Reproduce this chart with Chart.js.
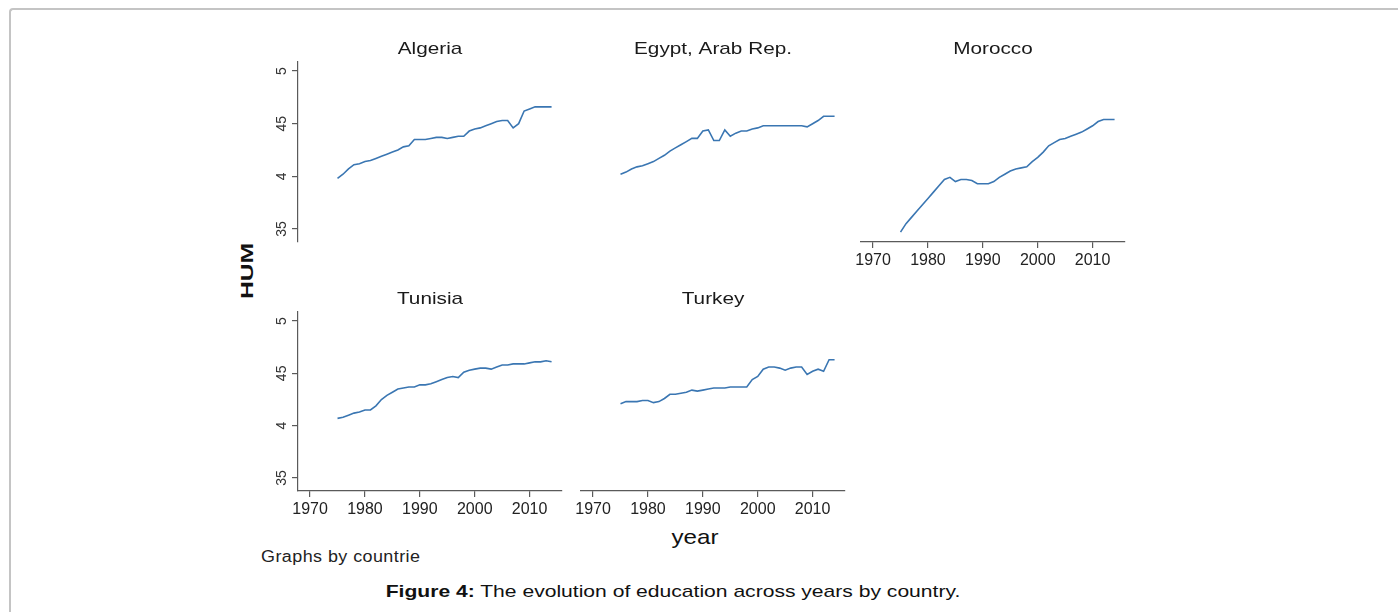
<!DOCTYPE html>
<html>
<head>
<meta charset="utf-8">
<script src="https://cdn.jsdelivr.net/npm/chart.js@4.4.1/dist/chart.umd.min.js"></script>
<style>
  html, body { margin:0; padding:0; background:#fff; }
  #root { position:relative; width:1398px; height:612px; overflow:hidden; font-family:"Liberation Sans", Arial, sans-serif; }
  .frame { position:absolute; left:9px; top:8px; width:1500px; height:700px; border-top:2px solid #c4c4c4; border-left:2px solid #c4c4c4; border-top-left-radius:4px; box-sizing:border-box; }
  .panel { position:absolute; }
  .txt { position:absolute; white-space:nowrap; color:#111; }
</style>
</head>
<body>
<div id="root">
  <div class="frame"></div>
  <div class="txt" id="ylab" style="left:248px; top:271px; font-size:17px; font-weight:bold; transform:translate(-50%,-50%) rotate(-90deg) scaleX(1.45);">HUM</div>
  <div class="txt" id="xlab" style="left:695px; top:537px; font-size:21px; transform:translate(-50%,-50%) scaleX(1.15);">year</div>
  <div class="txt" id="note" style="left:261px; top:557px; font-size:16px; transform-origin:0 50%; transform:translateY(-50%) scaleX(1.12); letter-spacing:0.4px; color:#222;">Graphs by countrie</div>
  <div class="txt" id="cap" style="left:673px; top:592px; font-size:17px; transform:translate(-50%,-50%) scaleX(1.24); color:#111;"><b>Figure 4:</b> The evolution of education across years by country.</div>
</div>
<script>
// ---------- data ----------
const years = [1975,1976,1977,1978,1979,1980,1981,1982,1983,1984,1985,1986,1987,1988,1989,1990,1991,1992,1993,1994,1995,1996,1997,1998,1999,2000,2001,2002,2003,2004,2005,2006,2007,2008,2009,2010,2011,2012,2013,2014];

const countries = ["Algeria", "Egypt, Arab Rep.", "Morocco", "Tunisia", "Turkey"];

const algeria = [3.98,4.02,4.07,4.11,4.12,4.14,4.15,4.17,4.19,4.21,4.23,4.25,4.28,4.29,4.35,4.35,4.35,4.36,4.37,4.37,4.36,4.37,4.38,4.38,4.43,4.45,4.46,4.48,4.50,4.52,4.53,4.53,4.46,4.50,4.62,4.64,4.66,4.66,4.66,4.66];
const egypt   = [4.02,4.04,4.07,4.09,4.10,4.12,4.14,4.17,4.20,4.24,4.27,4.30,4.33,4.36,4.36,4.43,4.44,4.34,4.34,4.44,4.38,4.41,4.43,4.43,4.45,4.46,4.48,4.48,4.48,4.48,4.48,4.48,4.48,4.48,4.47,4.50,4.53,4.57,4.57,4.57];
const morocco = [3.47,3.55,3.61,3.67,3.73,3.79,3.85,3.91,3.97,3.99,3.95,3.97,3.97,3.96,3.93,3.93,3.93,3.95,3.99,4.02,4.05,4.07,4.08,4.09,4.14,4.18,4.23,4.29,4.32,4.35,4.36,4.38,4.40,4.42,4.45,4.48,4.52,4.54,4.54,4.54];
const tunisia = [4.07,4.08,4.10,4.12,4.13,4.15,4.15,4.19,4.25,4.29,4.32,4.35,4.36,4.37,4.37,4.39,4.39,4.40,4.42,4.44,4.46,4.47,4.46,4.51,4.53,4.54,4.55,4.55,4.54,4.56,4.58,4.58,4.59,4.59,4.59,4.60,4.61,4.61,4.62,4.61];
const turkey  = [4.21,4.23,4.23,4.23,4.24,4.24,4.22,4.23,4.26,4.30,4.30,4.31,4.32,4.34,4.33,4.34,4.35,4.36,4.36,4.36,4.37,4.37,4.37,4.37,4.44,4.47,4.54,4.56,4.56,4.55,4.53,4.55,4.56,4.56,4.49,4.52,4.54,4.52,4.63,4.63];

const yTickValues = [3.5, 4, 4.5, 5];
const yTickLabels = ["35", "4", "45", "5"];
const xTickValues = [1970, 1980, 1990, 2000, 2010];
const xTickLabels = ["1970", "1980", "1990", "2000", "2010"];

// ---------- layout ----------
const seriesList = [algeria, egypt, morocco, tunisia, turkey];
const panels = [
  { plotLeft:298, plotTop:62,  plotH:180, showY:true,  showX:false },
  { plotLeft:581, plotTop:62,  plotH:180, showY:false, showX:false },
  { plotLeft:861, plotTop:62,  plotH:180, showY:false, showX:true  },
  { plotLeft:298, plotTop:312, plotH:179, showY:true,  showX:true  },
  { plotLeft:581, plotTop:312, plotH:179, showY:false, showX:true  }
];
const PLOT_W = 264, LEFT_SP = 60, TOP_SP = 45, BOT_SP = 35, RIGHT_SP = 10;
const AXIS_COL = '#5a5a5a';
const LINE_COL = '#3a76b2';
const FONT = '"Liberation Sans", Arial, sans-serif';

// rotated y tick labels (Stata style) + stretched panel titles
const decor = {
  id: 'decor',
  afterDraw(chart, args, opts) {
    const ctx = chart.ctx;
    const ca = chart.chartArea;
    // panel title
    ctx.save();
    ctx.font = '17px ' + FONT;
    ctx.fillStyle = '#1a1a1a';
    ctx.textAlign = 'center';
    ctx.textBaseline = 'alphabetic';
    ctx.translate((ca.left + ca.right) / 2, ca.top - 8);
    ctx.scale(1.22, 1);
    ctx.fillText(opts.title, 0, 0);
    ctx.restore();
    if (!opts.showY) return;
    const s = chart.scales.y;
    ctx.save();
    ctx.font = '14px ' + FONT;
    ctx.fillStyle = '#333';
    ctx.textAlign = 'center';
    ctx.textBaseline = 'middle';
    yTickValues.forEach((v, i) => {
      const y = s.getPixelForValue(v);
      ctx.save();
      ctx.translate(s.right - 16, y);
      ctx.rotate(-Math.PI / 2);
      ctx.fillText(yTickLabels[i], 0, 0);
      ctx.restore();
    });
    ctx.restore();
  }
};

const root = document.getElementById('root');
panels.forEach((p, k) => {
  const w = LEFT_SP + PLOT_W + RIGHT_SP;
  const h = TOP_SP + p.plotH + BOT_SP;
  const div = document.createElement('div');
  div.className = 'panel';
  div.style.left = (p.plotLeft - LEFT_SP) + 'px';
  div.style.top = (p.plotTop - TOP_SP) + 'px';
  div.style.width = w + 'px';
  div.style.height = h + 'px';
  const cv = document.createElement('canvas');
  cv.width = w; cv.height = h;
  cv.style.width = w + 'px'; cv.style.height = h + 'px';
  div.appendChild(cv);
  root.appendChild(div);

  const data = years.map((yr, i) => ({ x: yr, y: seriesList[k][i] }));

  new Chart(cv, {
    type: 'line',
    data: { datasets: [{ data, borderColor: LINE_COL, borderWidth: 1.6, pointRadius: 0, tension: 0, fill: false }] },
    options: {
      responsive: false,
      animation: false,
      devicePixelRatio: 1,
      layout: { padding: { left: p.showY ? 0 : LEFT_SP, right: RIGHT_SP, top: TOP_SP, bottom: p.showX ? 0 : BOT_SP } },
      plugins: {
        legend: { display: false },
        tooltip: { enabled: false },
        title: { display: false },
        decor: { showY: p.showY, title: countries[k] }
      },
      scales: {
        x: {
          type: 'linear', display: p.showX, min: 1967.8, max: 2015.9,
          afterBuildTicks: s => { s.ticks = xTickValues.map(v => ({ value: v })); },
          afterFit: s => { if (p.showX) s.height = BOT_SP; },
          ticks: { color: '#222', font: { family: FONT, size: 16 }, padding: 3, maxRotation: 0, minRotation: 0, autoSkip: false,
                   callback: v => xTickLabels[xTickValues.indexOf(v)] },
          grid: { drawOnChartArea: false, drawTicks: true, tickLength: 6, color: AXIS_COL, lineWidth: 1.2 },
          border: { display: true, color: AXIS_COL, width: 1.2 }
        },
        y: {
          type: 'linear', display: p.showY, min: 3.376, max: 5.086,
          afterBuildTicks: s => { s.ticks = yTickValues.map(v => ({ value: v })); },
          afterFit: s => { if (p.showY) s.width = LEFT_SP; },
          ticks: { display: false },
          grid: { drawOnChartArea: false, drawTicks: true, tickLength: 6, color: AXIS_COL, lineWidth: 1.2 },
          border: { display: true, color: AXIS_COL, width: 1.2 }
        }
      }
    },
    plugins: [decor]
  });
});
</script>
</body>
</html>
